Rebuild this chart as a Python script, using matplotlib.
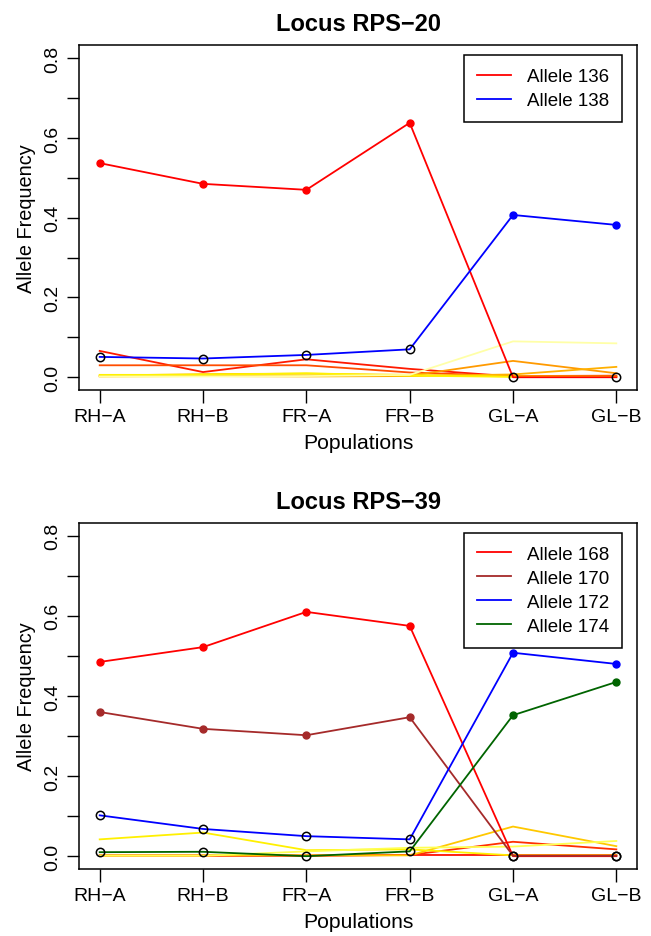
import matplotlib
matplotlib.use("Agg")
import matplotlib.pyplot as plt
import numpy as np

plt.rcParams['font.family'] = ['Liberation Sans', 'DejaVu Sans']

populations = ["RH\u2212A", "RH\u2212B", "FR\u2212A", "FR\u2212B", "GL\u2212A", "GL\u2212B"]

# Locus RPS-20
rps20_titles = ["Allele 136", "Allele 138"]
rps20_colors = ["red", "blue"]
rps20_main = [
    [0.537, 0.485, 0.470, 0.638, 0.000, 0.000],
    [0.051, 0.047, 0.056, 0.070, 0.407, 0.382],
]
rps20_bg_colors = ["#FF1A00", "#FF4D00", "#FF9A00", "#FFB000", "#FFD000", "#FFF200", "#FFFFA8"]
rps20_bg = [
    [0.066, 0.013, 0.045, 0.021, 0.002, 0.002],
    [0.030, 0.030, 0.030, 0.012, 0.003, 0.004],
    [0.003, 0.005, 0.004, 0.004, 0.041, 0.010],
    [0.002, 0.003, 0.002, 0.003, 0.007, 0.026],
    [0.004, 0.008, 0.009, 0.006, 0.002, 0.001],
    [0.006, 0.006, 0.010, 0.004, 0.001, 0.001],
    [0.002, 0.002, 0.003, 0.006, 0.090, 0.085],
]

# Locus RPS-39
rps39_titles = ["Allele 168", "Allele 170", "Allele 172", "Allele 174"]
rps39_colors = ["red", "brown", "blue", "darkgreen"]
rps39_main = [
    [0.485, 0.522, 0.610, 0.575, 0.000, 0.000],
    [0.360, 0.318, 0.302, 0.347, 0.001, 0.001],
    [0.102, 0.068, 0.050, 0.042, 0.508, 0.480],
    [0.010, 0.011, 0.000, 0.012, 0.352, 0.435],
]
rps39_bg_colors = ["#FF1000", "#FF3000", "#FFC800", "#FFF000", "#FFFF50"]
rps39_bg = [
    [0.001, 0.001, 0.001, 0.003, 0.003, 0.003],
    [0.002, 0.002, 0.002, 0.003, 0.036, 0.017],
    [0.002, 0.002, 0.002, 0.002, 0.074, 0.025],
    [0.042, 0.059, 0.015, 0.017, 0.002, 0.002],
    [0.001, 0.001, 0.012, 0.021, 0.024, 0.038],
]


def draw_panel(ax, title, main, colors, labels, bg, bg_colors):
    x = np.arange(1, len(populations) + 1)
    for vals, c in zip(bg, bg_colors):
        ax.plot(x, vals, color=c, lw=1.3)
    for vals, c, lab in zip(main, colors, labels):
        vals = np.array(vals)
        ax.plot(x, vals, color=c, lw=1.3, label=lab)
        big = vals > 0.2
        ax.plot(x[big], vals[big], 'o', color=c, ms=5, mec=c)
        ax.plot(x[~big], vals[~big], 'o', mfc='none', mec='black', ms=6, mew=1.1)
    ax.set_xlim(0.8, 6.2)
    ax.set_ylim(-0.032, 0.832)
    ax.set_xticks(x)
    ax.set_xticklabels(populations)
    yt = np.round(np.arange(0, 0.81, 0.1), 1)
    ax.set_yticks(yt)
    ax.set_yticklabels(["%.1f" % v if i % 2 == 0 else "" for i, v in enumerate(yt)],
                       rotation=90, va='center')
    ax.tick_params(direction='out', length=9, width=1, labelsize=14, pad=4)
    for s in ax.spines.values():
        s.set_linewidth(1.1)
    ax.set_xlabel("Populations", fontsize=15.2, labelpad=6)
    ax.set_ylabel("Allele Frequency", fontsize=14.3, labelpad=6)
    ax.set_title(title, fontsize=17, fontweight='bold', pad=11)
    leg = ax.legend(loc='upper right', bbox_to_anchor=(0.973, 0.972), borderaxespad=0,
                    fancybox=False, edgecolor='black', fontsize=13.5, handlelength=1.8,
                    handletextpad=0.85, labelspacing=0.36, borderpad=0.7, framealpha=1)
    leg.get_frame().set_linewidth(1.1)


fig = plt.figure(figsize=(6.51, 9.37), dpi=100)
ax1 = fig.add_axes([0.1214, 0.5827, 0.8571, 0.3677])
ax2 = fig.add_axes([0.1214, 0.0715, 0.8571, 0.3693])

draw_panel(ax1, "Locus RPS\u221220", rps20_main, rps20_colors, rps20_titles, rps20_bg, rps20_bg_colors)
draw_panel(ax2, "Locus RPS\u221239", rps39_main, rps39_colors, rps39_titles, rps39_bg, rps39_bg_colors)

fig.savefig("out.png", dpi=100)
